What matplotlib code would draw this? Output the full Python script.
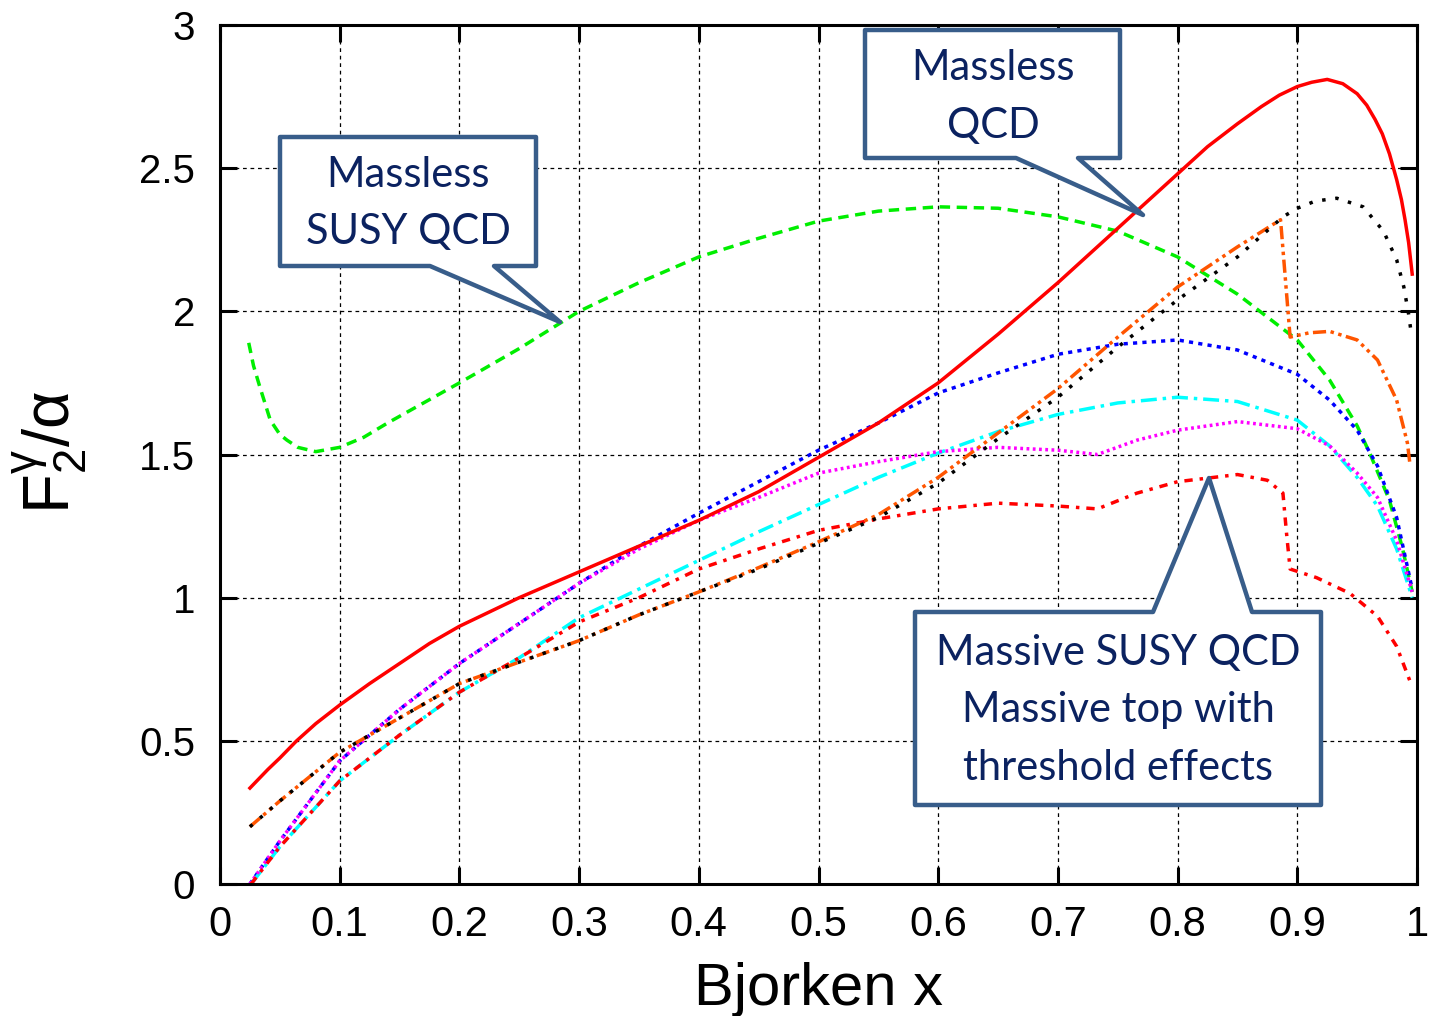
import numpy as np
import matplotlib
matplotlib.use("Agg")
import matplotlib.pyplot as plt
from matplotlib.patches import Polygon

W, H = 1433, 1016

# massless QCD (red solid)
qcd_x = [0.025, 0.04, 0.05, 0.064, 0.08, 0.1, 0.125, 0.15, 0.175, 0.2, 0.25, 0.3, 0.35, 0.4, 0.45,
         0.5, 0.55, 0.6, 0.65, 0.7, 0.75, 0.8, 0.825, 0.85, 0.87, 0.885, 0.9, 0.912, 0.925, 0.938,
         0.95, 0.958, 0.965, 0.971, 0.977, 0.983, 0.987, 0.99, 0.993, 0.996]
qcd_y = [0.335, 0.40, 0.44, 0.50, 0.56, 0.625, 0.70, 0.77, 0.84, 0.90, 1.0, 1.09, 1.18, 1.27, 1.37,
         1.49, 1.61, 1.75, 1.92, 2.10, 2.29, 2.48, 2.575, 2.655, 2.715, 2.755, 2.785, 2.80, 2.81,
         2.795, 2.76, 2.72, 2.67, 2.62, 2.55, 2.46, 2.39, 2.32, 2.24, 2.13]

# massless SUSY QCD (green dashed)
susy_x = [0.024, 0.028, 0.033, 0.042, 0.05, 0.056, 0.065, 0.08, 0.1, 0.12, 0.14, 0.17, 0.2, 0.25,
          0.3, 0.35, 0.4, 0.45, 0.5, 0.55, 0.6, 0.65, 0.7, 0.75, 0.8, 0.85, 0.9, 0.927, 0.95,
          0.961, 0.977, 0.988, 0.996]
susy_y = [1.89, 1.81, 1.74, 1.62, 1.57, 1.55, 1.525, 1.51, 1.525, 1.56, 1.61, 1.68, 1.75, 1.87,
          2.0, 2.10, 2.19, 2.255, 2.315, 2.35, 2.365, 2.36, 2.33, 2.28, 2.19, 2.06, 1.90, 1.76, 1.60,
          1.5, 1.34, 1.17, 1.02]

# blue dotted
blue_x = [0.025, 0.05, 0.1, 0.15, 0.2, 0.25, 0.3, 0.35, 0.4, 0.45, 0.5, 0.55, 0.6, 0.65, 0.7,
          0.75, 0.8, 0.85, 0.9, 0.927, 0.95, 0.967, 0.983, 0.996]
blue_y = [0.0, 0.15, 0.43, 0.61, 0.77, 0.91, 1.05, 1.18, 1.295, 1.405, 1.515, 1.61, 1.715, 1.785,
          1.85, 1.885, 1.90, 1.865, 1.78, 1.69, 1.585, 1.46, 1.28, 1.03]

# magenta dotted
mag_x = [0.025, 0.05, 0.1, 0.15, 0.2, 0.25, 0.3, 0.35, 0.4, 0.45, 0.5, 0.55, 0.6, 0.65, 0.7,
         0.733, 0.766, 0.8, 0.85, 0.9, 0.927, 0.95, 0.967, 0.983, 0.996]
mag_y = [0.0, 0.15, 0.43, 0.61, 0.77, 0.91, 1.05, 1.17, 1.27, 1.35, 1.435, 1.475, 1.51, 1.525,
         1.515, 1.50, 1.55, 1.585, 1.615, 1.59, 1.53, 1.435, 1.35, 1.20, 1.02]

# cyan dash-dot
cyan_x = [0.026, 0.05, 0.1, 0.15, 0.2, 0.25, 0.3, 0.35, 0.4, 0.45, 0.5, 0.55, 0.6, 0.65, 0.7,
          0.75, 0.8, 0.85, 0.9, 0.927, 0.95, 0.967, 0.983, 0.996]
cyan_y = [0.0, 0.13, 0.36, 0.52, 0.67, 0.79, 0.93, 1.03, 1.13, 1.23, 1.325, 1.42, 1.505, 1.58,
          1.64, 1.68, 1.70, 1.685, 1.62, 1.53, 1.42, 1.32, 1.17, 1.0]

# massive top with threshold effects (red dash-dot)
thr_x = [0.026, 0.05, 0.1, 0.15, 0.2, 0.25, 0.3, 0.35, 0.4, 0.45, 0.5, 0.55, 0.6, 0.65, 0.7,
         0.733, 0.766, 0.8, 0.85, 0.875, 0.888, 0.891, 0.894, 0.916, 0.944, 0.967, 0.983, 0.994]
thr_y = [0.0, 0.13, 0.36, 0.52, 0.67, 0.79, 0.915, 1.0, 1.10, 1.17, 1.235, 1.275, 1.31, 1.33,
         1.32, 1.31, 1.365, 1.405, 1.43, 1.41, 1.365, 1.225, 1.10, 1.07, 1.015, 0.935, 0.83, 0.71]

# orange dash-dot-dot
ora_x = [0.025, 0.05, 0.1, 0.15, 0.2, 0.25, 0.3, 0.35, 0.4, 0.45, 0.5, 0.55, 0.6, 0.65, 0.7,
         0.75, 0.8, 0.85, 0.886, 0.894, 0.91, 0.927, 0.95, 0.967, 0.983, 0.992, 0.994]
ora_y = [0.20, 0.29, 0.46, 0.58, 0.70, 0.775, 0.85, 0.94, 1.02, 1.105, 1.195, 1.29, 1.42, 1.575,
         1.73, 1.91, 2.085, 2.225, 2.32, 1.91, 1.925, 1.93, 1.90, 1.83, 1.69, 1.54, 1.47]

# black dotted
blk_x = [0.025, 0.05, 0.1, 0.15, 0.2, 0.25, 0.3, 0.35, 0.4, 0.45, 0.5, 0.55, 0.6, 0.65, 0.7,
         0.75, 0.8, 0.85, 0.888, 0.9, 0.915, 0.933, 0.955, 0.972, 0.983, 0.989, 0.993, 0.995]
blk_y = [0.20, 0.29, 0.46, 0.58, 0.70, 0.775, 0.85, 0.94, 1.02, 1.10, 1.19, 1.28, 1.40, 1.555,
         1.70, 1.875, 2.04, 2.19, 2.33, 2.36, 2.385, 2.395, 2.365, 2.28, 2.18, 2.085, 1.99, 1.93]

xticks = np.arange(0, 1.01, 0.1)
xtick_labels = ["0", "0.1", "0.2", "0.3", "0.4", "0.5", "0.6", "0.7", "0.8", "0.9", "1"]
yticks = np.arange(0, 3.01, 0.5)
ytick_labels = ["0", "0.5", "1", "1.5", "2", "2.5", "3"]

fig = plt.figure(figsize=(W / 100, H / 100), dpi=100)
ax = fig.add_axes([220 / W, 1 - 884 / H, (1417 - 220) / W, (884 - 25) / H])

lw = 2.5
ax.plot(susy_x, susy_y, color="#00ee00", lw=lw, ls=(0, (3.0, 1.9)))
ax.plot(blue_x, blue_y, color="#0000ff", lw=lw, ls=(0, (1.2, 1.5)))
ax.plot(cyan_x, cyan_y, color="#00ffff", lw=lw, ls=(0, (4.6, 1.7, 1, 1.7)))
ax.plot(mag_x, mag_y, color="#ff00ff", lw=lw, ls=(0, (0.8, 1.0)))
ax.plot(thr_x, thr_y, color="#ff0000", lw=lw, ls=(0, (2.4, 2.0, 1, 2.0)))
ax.plot(ora_x, ora_y, color="#ff5500", lw=lw, ls=(0, (3.8, 1.3, 1, 1.3, 1, 1.3)))
ax.plot(blk_x, blk_y, color="black", lw=lw, ls=(0, (1.0, 2.8)))
ax.plot(qcd_x, qcd_y, color="#ff0000", lw=lw, ls="-")

ax.set_xlim(0, 1)
ax.set_ylim(0, 3)
ax.set_xticks(xticks)
ax.set_xticklabels(xtick_labels, family="Liberation Sans", fontsize=30)
ax.set_yticks(yticks)
ax.set_yticklabels(ytick_labels, family="Liberation Sans", fontsize=29)
ax.tick_params(direction="in", length=12, width=2.2, top=True, right=True)
ax.tick_params(axis="x", pad=15)
ax.tick_params(axis="y", pad=18)
for s in ax.spines.values():
    s.set_linewidth(2.2)
ax.grid(True, color="black", lw=0.9, ls=(0, (3, 3)))
ax.set_axisbelow(True)

plt.rcParams["mathtext.fontset"] = "custom"
plt.rcParams["mathtext.rm"] = "Liberation Sans"
plt.rcParams["mathtext.it"] = "Liberation Sans"
fig.text(50 / W, 1 - 452 / H, r"$\mathregular{F^{\gamma}_{2}/\alpha}$", rotation=90,
         ha="center", va="center", fontsize=47, family="Liberation Sans")
fig.text(818 / W, 1 - 1005 / H, "Bjorken x", ha="center", va="baseline",
         fontsize=43, family="Liberation Sans")


def px(pts):
    return [(x / W, 1 - y / H) for x, y in pts]


edge = "#385d8a"
txt = "#0b2260"
callouts = [
    [(280, 137), (536, 137), (536, 266), (494, 266), (560, 322), (430, 266), (280, 266)],
    [(865, 30), (1120, 30), (1120, 158), (1078, 158), (1143, 215), (1016, 158), (865, 158)],
    [(915, 612), (1153, 612), (1209, 478), (1252, 612), (1321, 612), (1321, 805), (915, 805)],
]
for pts in callouts:
    fig.add_artist(Polygon(px(pts), closed=True, transform=fig.transFigure, facecolor="white",
                           edgecolor=edge, lw=3.2, joinstyle="round", zorder=5))

labels = [
    ("Massless", 408, 175), ("SUSY QCD", 408, 232),
    ("Massless", 993, 68), ("QCD", 993, 126),
    ("Massive SUSY QCD", 1118, 653), ("Massive top with", 1118, 710),
    ("threshold effects", 1118, 768),
]
for s, x, y in labels:
    fig.text(x / W, 1 - y / H, s, ha="center", va="center", fontsize=30, color=txt,
             family="Lato", zorder=6)

fig.savefig("out.png", dpi=100)
